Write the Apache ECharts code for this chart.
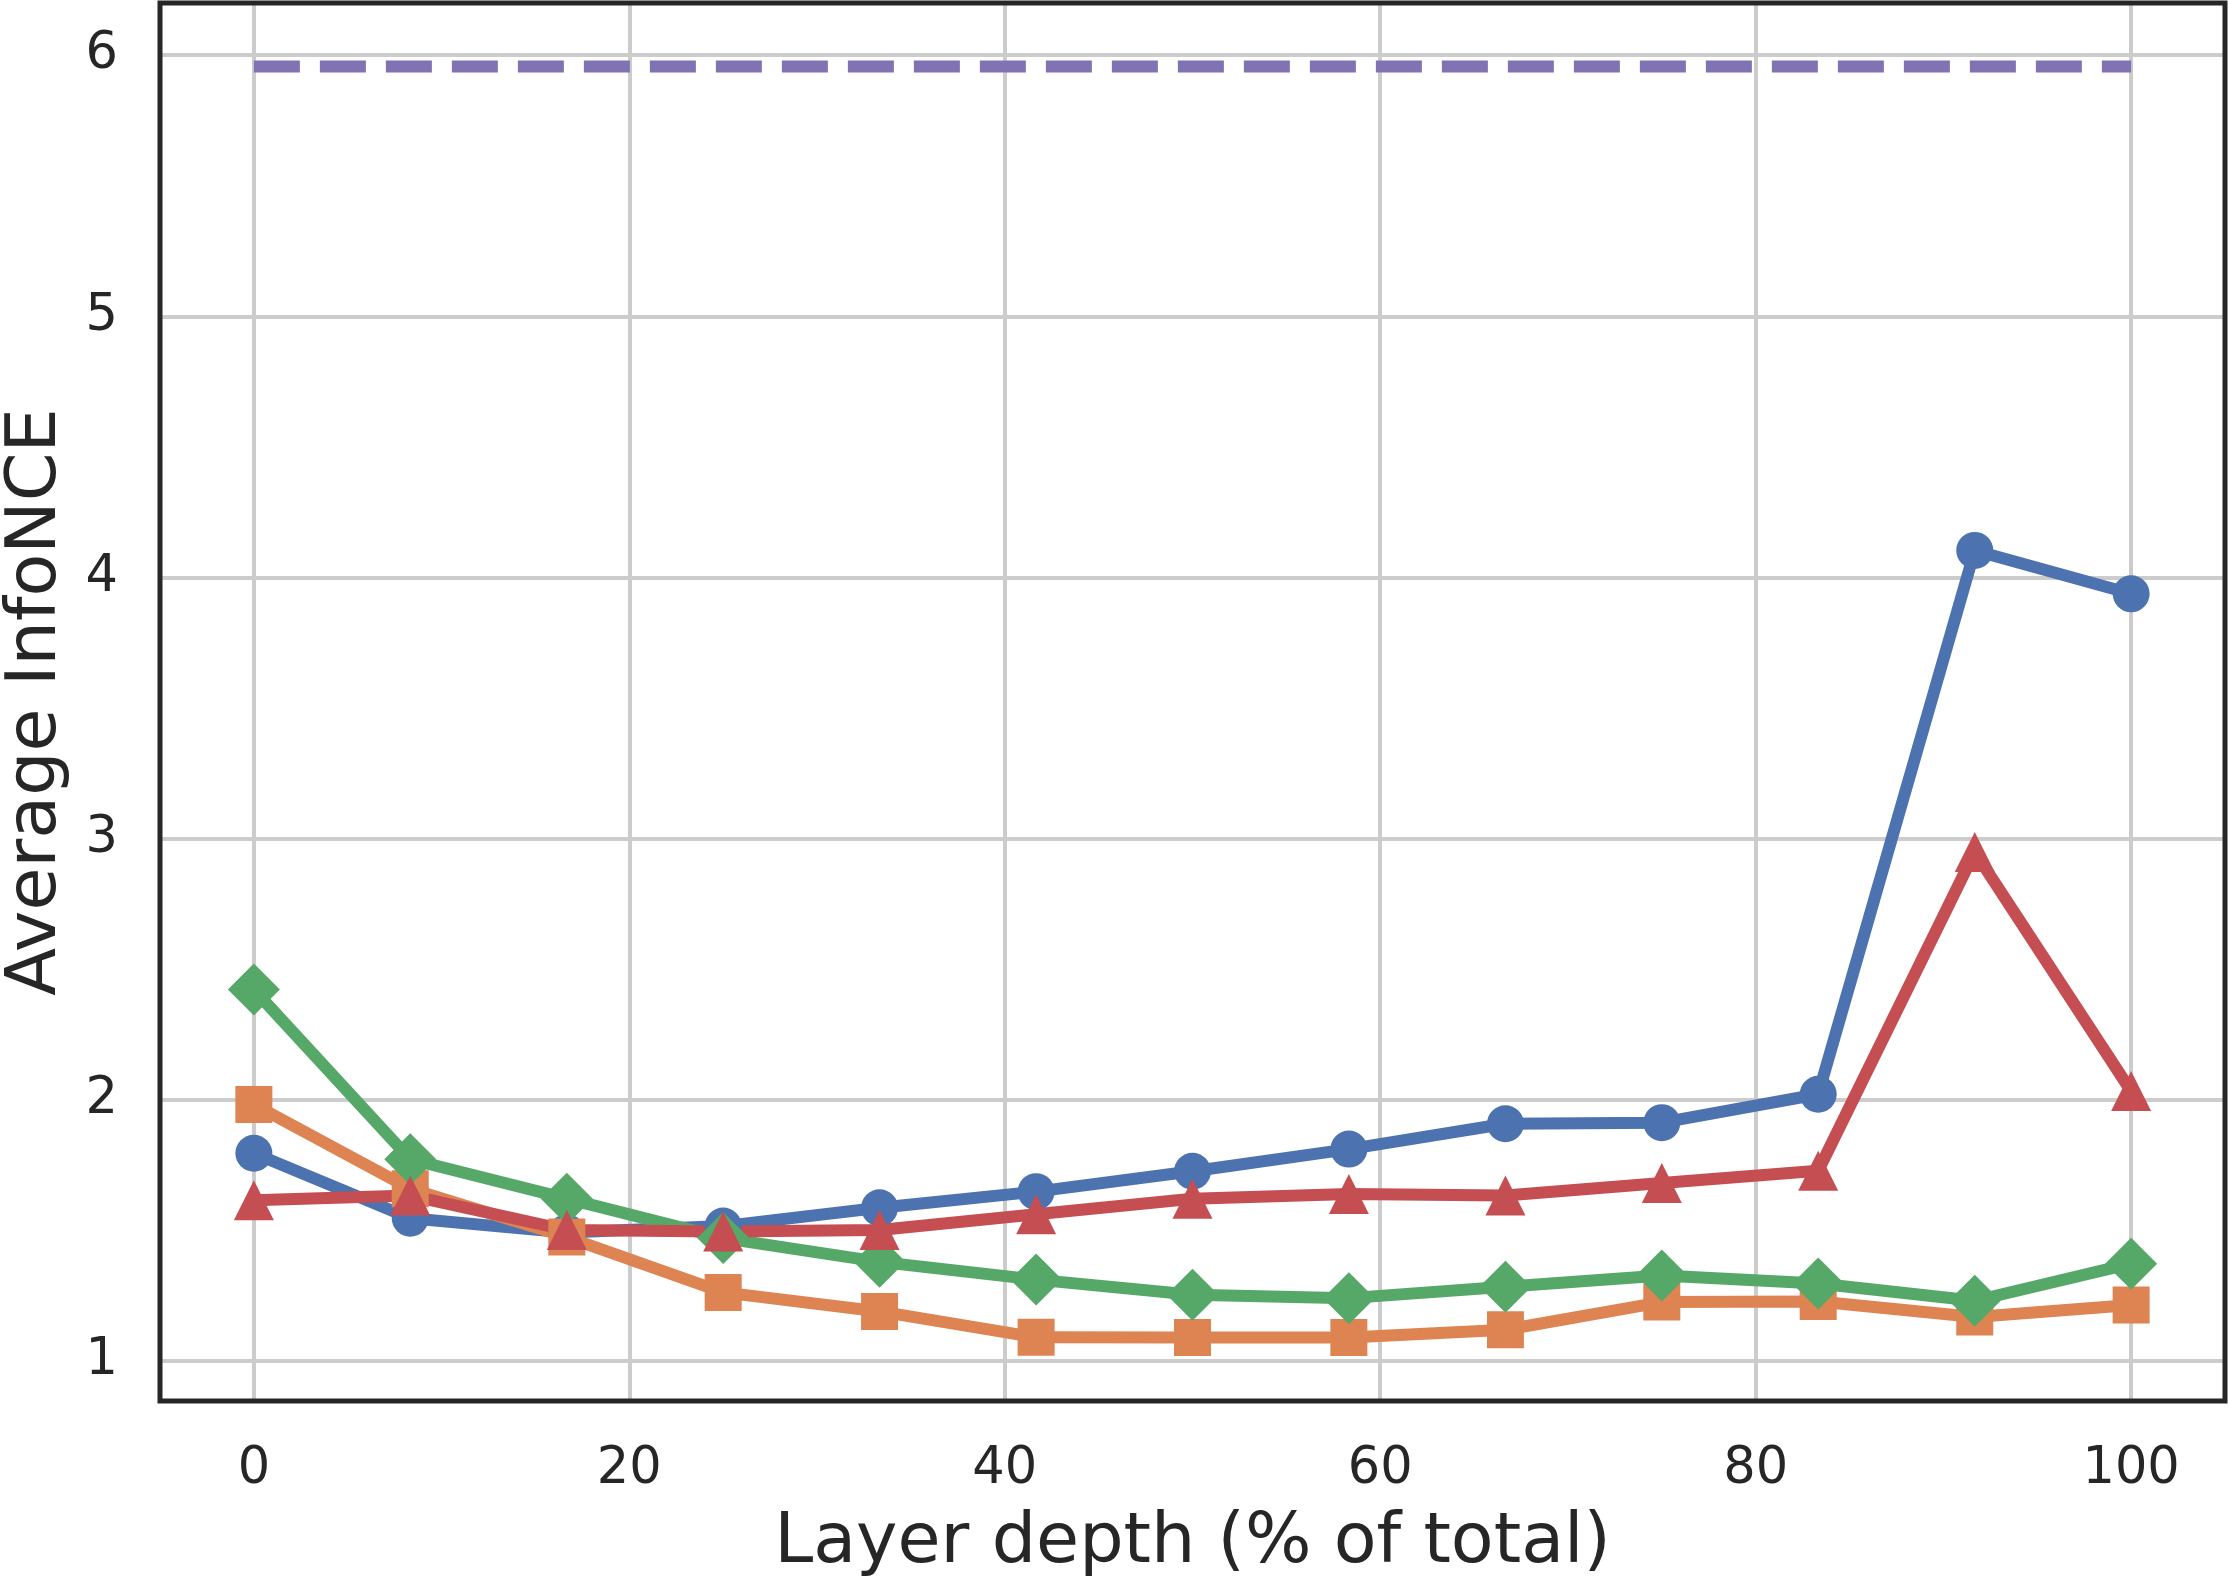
<!DOCTYPE html>
<html>
<head>
<meta charset="utf-8">
<script src="https://cdn.jsdelivr.net/npm/echarts@6/dist/echarts.min.js"></script>
<style>
  html, body { margin: 0; padding: 0; background: #ffffff; }
  #chart { width: 2228px; height: 1579px; }
</style>
</head>
<body>
<div id="chart"></div>
<script>
// layer depth in % of total (13 layers)
var depth = [0, 8.33, 16.67, 25, 33.33, 41.67, 50, 58.33, 66.67, 75, 83.33, 91.67, 100]

var blueVals   = [1.794, 1.545, 1.49, 1.515, 1.585, 1.647, 1.725, 1.81, 1.907, 1.911, 2.02, 4.103, 3.937]
var orangeVals = [1.981, 1.658, 1.473, 1.261, 1.188, 1.089, 1.088, 1.088, 1.118, 1.224, 1.226, 1.167, 1.213]
var greenVals  = [2.421, 1.771, 1.62, 1.469, 1.378, 1.31, 1.252, 1.239, 1.283, 1.326, 1.295, 1.229, 1.371]
var redVals    = [1.614, 1.632, 1.50, 1.494, 1.50, 1.56, 1.62, 1.638, 1.632, 1.68, 1.727, 2.948, 2.032]

// upper bound, dashed
var boundX = [0, 100]
var boundY = 5.957

var xTicks = [0, 20, 40, 60, 80, 100]
var yTicks = [1, 2, 3, 4, 5, 6]

var font = 'DejaVu Sans'
var textColor = '#262626'

function pairs(xs, ys) {
  return xs.map(function (x, i) { return [x, ys[i]] })
}

function lineSeries(name, vals, color, symbol, size) {
  return {
    name: name,
    type: 'line',
    data: pairs(depth, vals),
    symbol: symbol,
    symbolSize: size,
    showAllSymbol: true,
    lineStyle: { color: color, width: 12, join: 'round', cap: 'round' },
    itemStyle: { color: color, opacity: 1 },
    emphasis: { disabled: true }
  }
}

var chart = echarts.init(document.getElementById('chart'))

var option = {
  animation: false,
  backgroundColor: '#ffffff',
  grid: {
    left: 160, right: 3, top: 3, bottom: 178,
    outerBoundsMode: 'none',
    containLabel: false,
    show: true,
    borderColor: '#262626',
    borderWidth: 5,
    z: 3
  },
  xAxis: {
    type: 'value',
    min: -5, max: 105,
    name: 'Layer depth (% of total)',
    nameLocation: 'middle',
    nameGap: 108,
    nameTextStyle: { fontFamily: font, fontSize: 70, color: textColor },
    axisLine: { show: false },
    axisTick: { show: false, customValues: xTicks },
    axisLabel: {
      customValues: xTicks,
      margin: 43,
      fontFamily: font, fontSize: 51, color: textColor
    },
    splitLine: { show: true, lineStyle: { color: '#cccccc', width: 4 } }
  },
  yAxis: {
    type: 'value',
    min: 0.845, max: 6.2,
    name: 'Average InfoNCE',
    nameLocation: 'middle',
    nameGap: 88,
    nameTextStyle: { fontFamily: font, fontSize: 70, color: textColor },
    axisLine: { show: false },
    axisTick: { show: false, customValues: yTicks },
    axisLabel: {
      customValues: yTicks,
      margin: 42,
      fontFamily: font, fontSize: 51, color: textColor
    },
    splitLine: { show: true, lineStyle: { color: '#cccccc', width: 4 } }
  },
  series: [
    {
      name: 'bound',
      type: 'line',
      data: boundX.map(function (x) { return [x, boundY] }),
      symbol: 'none',
      lineStyle: { color: '#8172B3', width: 12, type: [46, 20], cap: 'butt' },
      emphasis: { disabled: true }
    },
    lineSeries('blue', blueVals, '#4C72B0', 'circle', 37),
    lineSeries('orange', orangeVals, '#DD8452', 'rect', 37),
    lineSeries('green', greenVals, '#55A868', 'diamond', 52),
    lineSeries('red', redVals, '#C44E52', 'triangle', 40)
  ]
}

chart.setOption(option)
</script>
</body>
</html>
